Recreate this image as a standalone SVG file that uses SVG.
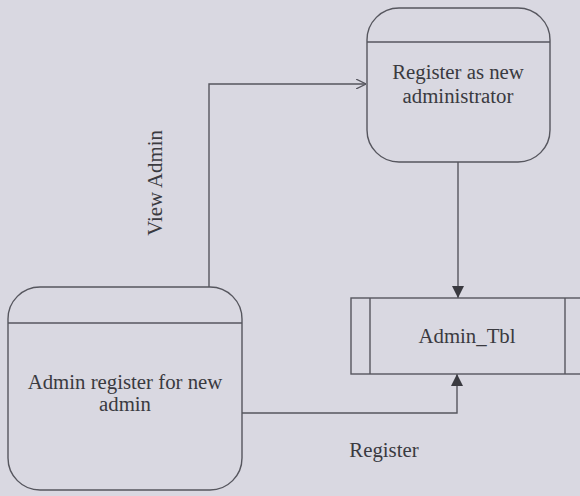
<svg xmlns="http://www.w3.org/2000/svg" width="580" height="496" viewBox="0 0 580 496">
<defs>
<style>
.bg{fill:#d9d8e1}
.shape{fill:none;stroke:#56565e;stroke-width:1.4}
.conn{fill:none;stroke:#56565e;stroke-width:1.4}
.lbl{font-family:'Liberation Serif','Times New Roman',serif;font-size:20.8px;fill:#3a3a40;text-anchor:middle}
</style>
<marker id="filled" viewBox="0 0 12 12" refX="12" refY="6" markerWidth="12" markerHeight="12" markerUnits="userSpaceOnUse" orient="auto">
<path d="M0,0 L12,6 L0,12 Z" fill="#3a3a40"/>
</marker>
<marker id="open" viewBox="0 0 10 10" refX="10" refY="5" markerWidth="10" markerHeight="10" markerUnits="userSpaceOnUse" orient="auto">
<path d="M0,0 L10,5 L0,10" fill="none" stroke="#56565e" stroke-width="1.3"/>
</marker>
</defs>
<rect class="bg" x="0" y="0" width="580" height="496"/>
<g id="connectors">
<path class="conn" d="M209,287 L209,84 L366,84" marker-end="url(#open)"/>
<path class="conn" d="M458,162 L458,298" marker-end="url(#filled)"/>
<path class="conn" d="M242,413 L457,413 L457,374" marker-end="url(#filled)"/>
<text class="lbl" transform="translate(162,183) rotate(-90)">View Admin</text>
<text class="lbl" x="384" y="457">Register</text>
</g>
<g id="register-new-admin">
<rect class="shape" x="367" y="8" width="183" height="154" rx="32" ry="32"/>
<line class="shape" x1="367" y1="42" x2="550" y2="42"/>
<text class="lbl" x="458" y="79">Register as new</text>
<text class="lbl" x="458" y="103">administrator</text>
</g>
<g id="admin-register">
<rect class="shape" x="8" y="287" width="234" height="203" rx="32" ry="32"/>
<line class="shape" x1="8" y1="323" x2="242" y2="323"/>
<text class="lbl" x="125" y="389">Admin register for new</text>
<text class="lbl" x="125" y="411">admin</text>
</g>
<g id="admin-tbl">
<rect class="shape" x="351" y="298" width="260" height="76"/>
<line class="shape" x1="370" y1="298" x2="370" y2="374"/>
<line class="shape" x1="565" y1="298" x2="565" y2="374"/>
<text class="lbl" x="467" y="343">Admin_Tbl</text>
</g>
</svg>
